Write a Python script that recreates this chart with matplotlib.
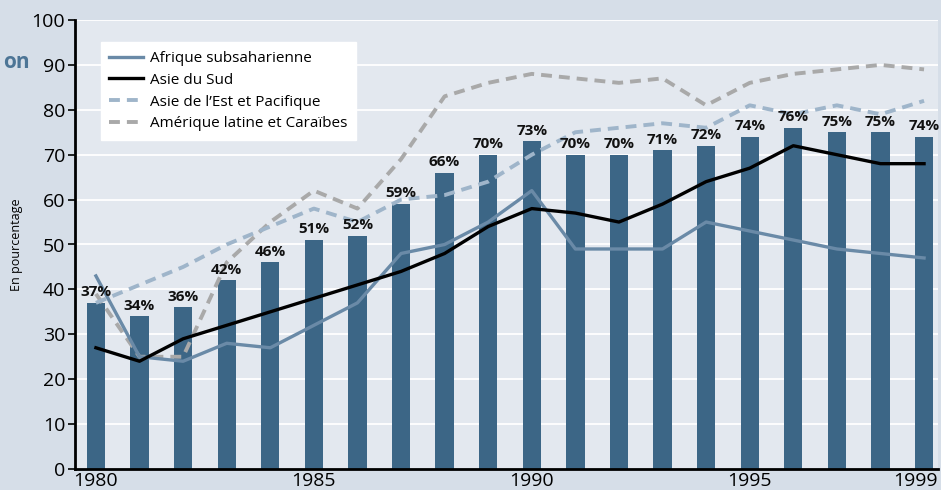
import numpy as np
import matplotlib
matplotlib.use("Agg")
import matplotlib.pyplot as plt
import matplotlib.transforms as mtransforms

###########################################################
# data
###########################################################
years = list(range(1980, 2000))
bars = [37, 34, 36, 42, 46, 51, 52, 59, 66, 70, 73, 70, 70, 71, 72, 74, 76, 75, 75, 74]

afrique = [43, 25, 24, 28, 27, 32, 37, 48, 50, 55, 62, 49, 49, 49, 55, 53, 51, 49, 48, 47]
asie_sud = [27, 24, 29, 32, 35, 38, 41, 44, 48, 54, 58, 57, 55, 59, 64, 67, 72, 70, 68, 68]
asie_est = [37, 41, 45, 50, 54, 58, 55, 60, 61, 64, 70, 75, 76, 77, 76, 81, 79, 81, 79, 82]
amerique = [39, 25, 25, 46, 55, 62, 58, 69, 83, 86, 88, 87, 86, 87, 81, 86, 88, 89, 90, 89]

xticks = [1980, 1985, 1990, 1995, 1999]
yticks = list(range(0, 101, 10))

###########################################################
# style
###########################################################
bg_out = "#d6dee8"
bg_in = "#e3e8ef"
bar_col = "#3c6686"
afr_col = "#6a8aa7"
est_col = "#9fb5ca"
ame_col = "#a9a9a9"

plt.rcParams['font.family'] = ['Open Sans', 'DejaVu Sans']

fig = plt.figure(figsize=(9.41, 4.90), dpi=100, facecolor=bg_out)
ax = fig.add_axes([75/941, 21/490, 863/941, 449/490])
ax.set_facecolor(bg_in)

ax.set_xlim(1979.52, 1999.32)
ax.set_ylim(0, 100)

for y in yticks[1:]:
    ax.axhline(y, color="white", lw=1.3, zorder=0)

ax.bar(years, bars, width=0.42, color=bar_col, zorder=2)
for x, v in zip(years, bars):
    ax.text(x, v + 0.8, f"{v}%", ha="center", va="bottom",
            fontsize=11, fontweight="bold", color="#111111", zorder=5)

ax.plot(years, amerique, color=ame_col, lw=2.8, dashes=(2.8, 1.8),
        label="Amérique latine et Caraïbes", zorder=3)
ax.plot(years, asie_est, color=est_col, lw=2.8, dashes=(2.8, 1.8),
        label="Asie de l\u2019Est et Pacifique", zorder=3)
ax.plot(years, afrique, color=afr_col, lw=2.4,
        label="Afrique subsaharienne", zorder=4)
ax.plot(years, asie_sud, color="black", lw=2.4,
        label="Asie du Sud", zorder=4)

handles, labels = ax.get_legend_handles_labels()
order = [2, 3, 1, 0]
leg = ax.legend([handles[i] for i in order], [labels[i] for i in order],
                loc="upper left", bbox_to_anchor=(0.021, 0.967),
                frameon=True, fancybox=False, framealpha=1, edgecolor="white",
                fontsize=11, handlelength=2.2, handletextpad=0.5,
                labelspacing=0.45, borderpad=0.55)
leg.set_zorder(6)

for s in ["top", "right"]:
    ax.spines[s].set_visible(False)
ax.spines["left"].set_linewidth(2)
ax.spines["bottom"].set_linewidth(2)

ax.set_yticks(yticks)
ax.set_xticks(xticks)
ax.tick_params(axis="y", length=5, width=1.2, labelsize=14, pad=2)
ax.tick_params(axis="x", length=0, labelsize=14, pad=2)

# last year label sits a little left so it stays inside the picture
last = ax.get_xticklabels()[-1]
last.set_transform(last.get_transform() +
                   mtransforms.ScaledTranslation(-9/100, 0, fig.dpi_scale_trans))

fig.text(17/941, 0.5, "En pourcentage", rotation=90, ha="center", va="center",
         fontsize=9)
fig.text(30/941, (490-62)/490, "on", ha="right", va="center", fontsize=15,
         fontweight="bold", color="#4d7596")

fig.savefig("out.png", dpi=100, facecolor=bg_out)
